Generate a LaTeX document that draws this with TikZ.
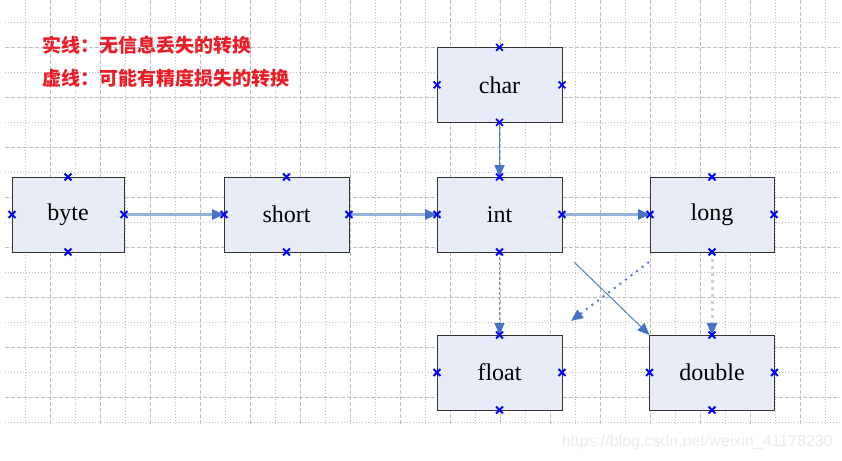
\documentclass[tikz,border=0pt]{standalone}
\usepackage{fontspec}
\setmainfont{Liberation Serif}
\newfontfamily\cjk{Noto Sans CJK SC}
\newfontfamily\webfont{Liberation Sans}
\usetikzlibrary{arrows.meta}
\usetikzlibrary{shapes.misc}

\definecolor{boxfill}{RGB}{231,236,246}
\definecolor{tipblue}{RGB}{68,114,196}
\definecolor{shaftblue}{RGB}{149,179,215}
\definecolor{lineblue}{RGB}{79,129,189}
\definecolor{dashgrey}{RGB}{125,140,165}
\definecolor{dotpale}{RGB}{198,210,230}
\definecolor{notered}{RGB}{235,30,40}
\definecolor{gridgrey}{RGB}{190,190,190}

\begin{document}
\begin{tikzpicture}[x = 1pt, y = -1pt,
    type/.style = {shape = rectangle, draw = black!80, line width = 1pt, fill = boxfill, minimum height = 75pt, minimum width = 125pt, inner sep = 0pt, outer sep = 0pt, font = \fontsize{24}{28}\selectfont},
    pinpt/.style = {shape = cross out, draw = blue, line width = 1.8pt, minimum size = 5pt, inner sep = 0pt},
    tip/.style = {-{Triangle[length = 12pt, width = 10pt, color = tipblue]}},
    widen/.style = {tip, color = shaftblue, line width = 3pt},
    plain/.style = {tip, color = lineblue, line width = 1.5pt},
    lossy/.style = {tip, color = dashgrey, line width = 1pt, dash pattern = on 3pt off 2pt},
    faint/.style = {tip, color = dotpale, line width = 3pt, dash pattern = on 3pt off 4pt},
    spotty/.style = {tip, color = lineblue, line width = 2pt, dash pattern = on 2pt off 5pt},
    note/.style = {anchor = west, text = notered, inner sep = 0pt, font = \cjk\bfseries\fontsize{19}{22}\selectfont},
    ]
    \useasboundingbox (0, 0) rectangle (842, 460);

    % grid
    \foreach \gx in {25, 75, ..., 825}
        \draw[gridgrey, line width = 1pt, dash pattern = on 1pt off 2pt] (\gx, 0) -- (\gx, 425);
    \foreach \gx in {50, 100, ..., 800}
        \draw[gridgrey, line width = 1pt, dash pattern = on 4pt off 2pt] (\gx, 0) -- (\gx, 425);
    \foreach \gy in {22.5, 72.5, ..., 422.5}
        \draw[gridgrey, line width = 1pt, dash pattern = on 1pt off 2pt] (5, \gy) -- (840, \gy);
    \foreach \gy in {47.5, 97.5, ..., 397.5}
        \draw[gridgrey, line width = 1pt, dash pattern = on 4pt off 2pt] (5, \gy) -- (840, \gy);

    \node[note] (solidnote) at (42, 45) {实线：无信息丢失的转换};
    \node[note] (dashnote) at (42, 78) {虚线：可能有精度损失的转换};

    \node[type, minimum width = 112pt] (byte) at (68, 214.5) {byte};
    \node[type] (short) at (286.5, 214.5) {short};
    \node[type] (int) at (499.5, 214.5) {int};
    \node[type, minimum width = 124pt] (long) at (712, 214.5) {long};
    \node[type] (char) at (499.5, 84.8) {char};
    \node[type] (float) at (499.5, 372.5) {float};
    \node[type] (double) at (712, 372.5) {double};

    \coordinate (intout) at (574, 262);
    \coordinate (longout) at (649, 262);
    \coordinate (floatin) at (571, 321);

    \path[widen] (byte.east) edge (short.west);
    \path[widen] (short.east) edge (int.west);
    \path[widen] (int.east) edge (long.west);
    \path[plain] (char.south) edge (int.north);
    \path[lossy] (int.south) edge (float.north);
    \path[faint] (long.south) edge (double.north);
    \path[plain, line width = 1pt] (intout) edge (double.north west);
    \path[spotty] (longout) edge (floatin);

    % connection points
    \foreach \n in {byte, short, int, long, char, float, double}
        \foreach \a in {north, south, east, west}
            \node[pinpt] at (\n.\a) {};

    \node[anchor = east, text = black!8, inner sep = 0pt, font = \webfont\fontsize{16}{18}\selectfont] (site) at (833, 442) {https://blog.csdn.net/weixin\_41178230};
\end{tikzpicture}
\end{document}
